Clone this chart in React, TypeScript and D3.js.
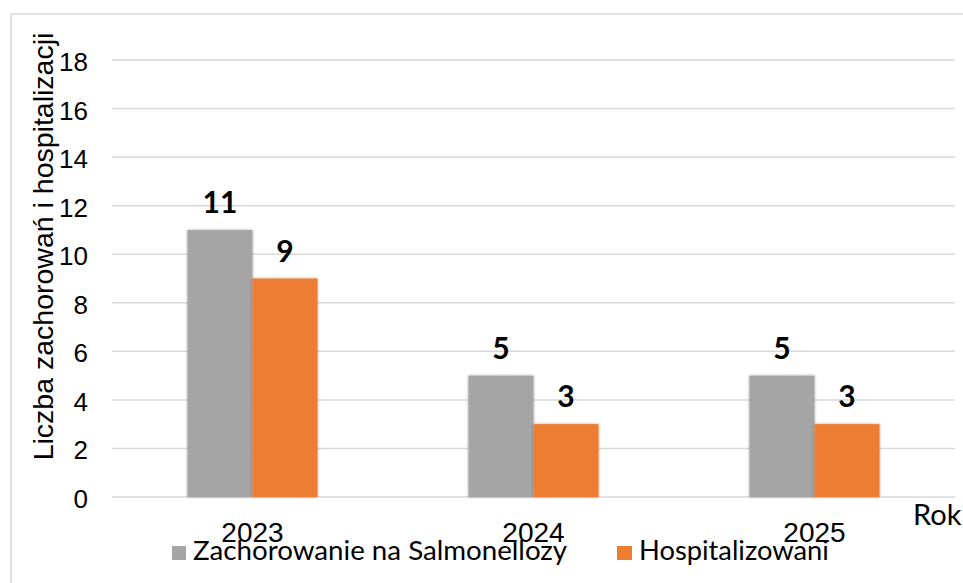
import React from "react";
import * as d3 from "d3";

const categories = ["2023", "2024", "2025"];
const seriesNames = ["Zachorowanie na Salmonellozy", "Hospitalizowani"];
const zachorowania = [11, 5, 5];
const hospitalizowani = [9, 3, 3];
const yTicks = [0, 2, 4, 6, 8, 10, 12, 14, 16, 18];
const colors = ["#a5a5a5", "#ed7d31"];
const yTitle = "Liczba zachorowań i hospitalizacji";
const xTitle = "Rok";

const W = 963;
const H = 583;
const plotLeft = 112;
const plotRight = 955;
const plotTop = 60;
const plotBottom = 497;

export default function App() {
  const series = [zachorowania, hospitalizowani];
  const x0 = d3
    .scaleBand<string>()
    .domain(categories)
    .range([plotLeft, plotRight])
    .paddingInner(0.537)
    .paddingOuter(0.2685);
  const x1 = d3
    .scaleBand<number>()
    .domain(series.map((_, i) => i))
    .range([0, x0.bandwidth()]);
  const y = d3.scaleLinear().domain([0, 18]).range([plotBottom, plotTop]);

  return (
    <svg
      width={W}
      height={H}
      style={{ position: "absolute", left: 0, top: 0, display: "block", background: "#fff" }}
    >
      <defs>
        <filter id="sh" x="-20%" y="-20%" width="140%" height="140%">
          <feGaussianBlur in="SourceAlpha" stdDeviation="1.5" />
          <feOffset dx="0" dy="0" result="b" />
          <feComponentTransfer>
            <feFuncA type="linear" slope="0.35" />
          </feComponentTransfer>
          <feMerge>
            <feMergeNode />
            <feMergeNode in="SourceGraphic" />
          </feMerge>
        </filter>
      </defs>
      <rect x={11} y={14} width={1200} height={1200} fill="#fff" stroke="#d9d9d9" strokeWidth={1.5} />
      {yTicks.map((t) => (
        <g key={t}>
          <line
            x1={plotLeft}
            x2={plotRight}
            y1={y(t)}
            y2={y(t)}
            stroke="#d9d9d9"
            strokeWidth={1.5}
          />
          <text
            x={88}
            y={y(t) + 2}
            textAnchor="end"
            dominantBaseline="central"
            fontFamily="'Liberation Sans', Arial, sans-serif"
            fontSize={26}
            fill="#000"
          >
            {t}
          </text>
        </g>
      ))}
      {categories.map((c, ci) => (
        <g key={c} transform={`translate(${x0(c)},0)`}>
          {series.map((s, si) => (
            <rect
              key={si}
              x={x1(si)}
              y={y(s[ci])}
              width={x1.bandwidth()}
              height={y(0) - y(s[ci])}
              fill={colors[si]}
              filter="url(#sh)"
            />
          ))}
          {series.map((s, si) => (
            <text
              key={"l" + si}
              x={(x1(si) as number) + x1.bandwidth() / 2}
              y={y(s[ci]) - 17}
              textAnchor="middle"
              fontFamily="Lato, sans-serif"
              fontWeight={700}
              fontSize={30}
              fill="#000"
            >
              {s[ci]}
            </text>
          ))}
          <text
            x={x0.bandwidth() / 2}
            y={542}
            textAnchor="middle"
            fontFamily="'Liberation Sans', Arial, sans-serif"
            fontSize={28}
            fill="#000"
          >
            {c}
          </text>
        </g>
      ))}
      <text
        x={913}
        y={525}
        fontFamily="Lato, sans-serif"
        fontSize={29}
        fill="#000"
      >
        {xTitle}
      </text>
      <text
        transform={`translate(53,${246.5}) rotate(-90)`}
        textAnchor="middle"
        fontFamily="'Liberation Sans', Arial, sans-serif"
        fontSize={28.5}
        fill="#000"
      >
        {yTitle}
      </text>
      <g>
        <rect x={172} y={546} width={14} height={14} fill={colors[0]} />
        <text x={193} y={560} fontFamily="Lato, sans-serif" fontSize={27.7} fill="#000">
          {seriesNames[0]}
        </text>
        <rect x={617} y={546} width={15} height={14} fill={colors[1]} />
        <text x={639} y={560} fontFamily="Lato, sans-serif" fontSize={27.3} fill="#000">
          {seriesNames[1]}
        </text>
      </g>
    </svg>
  );
}
